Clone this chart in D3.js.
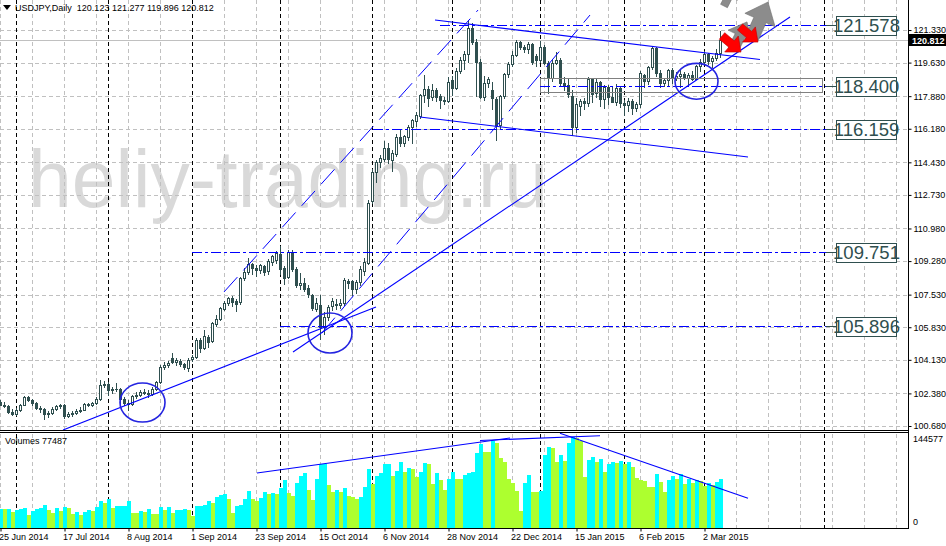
<!DOCTYPE html>
<html><head><meta charset="utf-8">
<script src="https://cdn.jsdelivr.net/npm/d3@7"></script>
<style>
body{margin:0;background:#fff;overflow:hidden}
svg{display:block}
text{font-family:"Liberation Sans",Arial,sans-serif}
</style>
</head><body>
<svg id="c" width="946" height="546"></svg>
<script>
// ---------------- DATA ----------------
const openP=[101.95,101.80,101.72,101.42,101.33,101.50,101.78,102.18,102.05,101.90,
101.62,101.55,101.30,101.35,101.55,101.70,101.80,101.22,101.32,101.38,
101.48,101.52,101.82,101.78,101.88,102.10,102.80,102.85,102.55,102.60,
102.62,102.10,101.90,101.85,102.25,102.30,102.45,102.40,102.35,102.60,
102.95,103.75,103.85,104.20,104.00,104.05,103.90,103.70,104.15,104.30,
105.15,104.75,105.30,105.10,106.02,106.25,106.80,107.10,107.35,107.20,
107.15,108.38,108.72,109.15,108.90,108.80,109.00,108.75,109.25,109.35,
109.65,108.90,108.45,109.70,108.85,108.05,108.15,107.90,107.50,106.80,
107.00,105.86,106.39,106.95,107.05,106.98,107.10,108.25,108.25,107.80,
108.20,108.75,109.20,112.40,113.95,114.45,114.60,115.20,114.55,114.85,
115.75,115.45,115.75,116.25,116.60,116.85,117.94,118.24,117.85,118.22,
117.90,117.70,117.65,118.72,118.30,119.20,119.76,120.10,121.45,120.72,
119.65,117.85,118.55,118.20,117.75,116.40,117.90,119.05,119.55,120.05,
120.70,120.45,120.35,120.60,119.95,119.75,120.45,119.60,118.85,119.60,
119.75,118.55,118.45,117.90,116.25,117.35,117.65,117.50,118.80,118.05,
118.60,117.75,118.35,117.85,117.60,118.30,117.50,117.40,117.65,117.25,
117.45,119.00,118.65,119.40,120.40,119.10,118.55,118.70,119.25,118.85,
118.95,119.05,118.85,119.00,118.80,119.45,119.65,120.10,119.70,119.85,
120.123];
const highP=[102.05,101.95,101.78,101.55,101.60,101.85,102.27,102.25,102.10,101.95,
101.70,101.60,101.45,101.65,101.80,101.85,101.85,101.40,101.45,101.55,
101.65,101.88,101.90,101.95,102.20,103.10,103.05,102.95,102.70,102.90,
102.65,102.20,102.05,102.30,102.45,102.55,102.60,102.55,102.70,103.05,
103.85,104.00,104.05,104.50,104.25,104.15,103.95,104.20,104.40,105.25,
105.25,105.70,105.40,106.10,106.45,106.90,107.20,107.40,107.45,107.30,
108.45,108.90,109.45,109.20,109.10,109.15,109.10,109.40,109.60,109.80,
110.09,109.00,109.85,109.85,108.95,108.65,108.40,108.05,107.55,107.35,
107.50,106.60,107.00,107.35,107.30,107.30,108.40,108.35,108.30,108.30,
109.00,109.45,112.45,114.10,114.55,114.80,115.55,115.45,115.05,115.90,
116.10,115.85,116.40,116.70,117.05,118.00,118.98,118.40,118.50,118.30,
118.00,117.85,118.90,118.95,119.35,119.90,120.25,121.85,121.70,120.85,
119.80,118.95,118.90,118.60,117.85,117.95,119.10,119.65,120.25,120.80,
120.75,120.55,120.70,120.65,120.10,120.75,120.55,119.70,119.75,120.20,
119.85,118.90,118.85,118.20,117.80,117.75,117.80,118.90,118.85,118.80,
118.65,118.45,118.45,118.40,118.50,118.40,117.70,117.80,117.75,117.60,
119.20,119.05,119.45,120.48,120.45,119.25,118.80,119.30,119.35,119.15,
119.25,119.15,119.10,119.20,119.50,119.80,120.25,120.15,120.00,120.35,
121.277];
const lowP=[101.75,101.65,101.35,101.25,101.25,101.45,101.75,102.00,101.80,101.55,
101.40,101.07,101.15,101.30,101.50,101.60,101.08,101.15,101.20,101.30,
101.40,101.50,101.70,101.72,101.85,102.05,102.70,102.30,102.40,102.50,
101.90,101.80,101.50,101.80,102.15,102.25,102.35,102.20,102.30,102.55,
102.90,103.65,103.75,103.95,103.85,103.80,103.65,103.55,104.05,104.25,
104.55,104.70,104.80,105.05,105.90,106.20,106.75,107.00,106.95,106.70,
107.05,108.30,108.60,108.60,108.50,108.65,108.55,108.60,109.10,109.20,
108.60,108.10,108.40,108.75,107.95,107.80,107.70,107.40,106.75,106.70,
105.23,105.50,106.20,106.75,106.80,106.85,107.00,107.90,107.50,107.60,
108.05,108.55,109.15,112.30,113.40,114.20,114.50,114.40,114.00,114.75,
115.30,115.30,115.60,115.45,116.30,116.75,117.60,117.35,117.70,117.65,
117.25,117.45,117.55,117.95,118.25,119.10,119.30,119.65,120.60,117.90,
117.80,117.70,118.35,117.20,115.57,116.20,117.80,118.90,119.45,119.95,
120.35,120.20,120.15,119.55,119.45,119.65,119.55,118.05,118.65,119.55,
118.40,118.20,117.85,115.85,116.00,116.90,117.20,117.35,117.60,117.85,
117.35,117.25,117.45,117.55,117.40,117.30,116.90,117.10,116.95,117.10,
117.30,118.35,118.50,119.30,118.95,118.35,118.40,118.45,118.55,118.70,
118.35,118.75,118.50,118.70,118.75,119.20,119.55,119.55,119.40,119.75,
119.896];
const closeP=[101.80,101.72,101.42,101.33,101.50,101.78,102.18,102.05,101.90,101.62,
101.55,101.30,101.35,101.55,101.70,101.80,101.22,101.32,101.38,101.48,
101.52,101.82,101.78,101.88,102.10,102.80,102.85,102.55,102.60,102.62,
102.10,101.90,101.85,102.25,102.30,102.45,102.40,102.35,102.60,102.95,
103.75,103.85,103.97,104.03,104.12,103.90,103.75,104.10,104.30,105.15,
104.75,105.35,105.05,106.05,106.25,106.85,107.10,107.35,107.17,107.05,
108.38,108.72,109.15,108.90,108.80,109.05,108.70,109.30,109.55,109.70,
108.85,108.40,109.75,108.85,108.05,108.15,107.80,107.55,106.85,107.10,
105.86,106.39,106.90,107.22,106.98,107.12,108.29,108.15,107.80,108.20,
108.85,109.25,112.29,113.95,114.45,114.68,115.20,114.60,114.90,115.73,
115.45,115.78,116.29,116.64,116.90,117.94,118.24,117.80,118.22,117.85,
117.70,117.65,118.60,118.30,119.20,119.75,120.10,121.44,120.72,119.65,
117.85,118.55,118.75,117.80,116.40,117.90,119.05,119.55,120.05,120.70,
120.45,120.35,120.60,119.65,119.75,120.45,119.60,118.85,119.60,119.75,
118.55,118.45,118.00,116.25,117.45,117.65,117.50,118.80,118.00,118.62,
117.75,118.35,117.85,117.60,118.30,117.50,117.40,117.65,117.25,117.45,
119.10,118.65,119.40,120.40,119.10,118.55,118.70,119.25,118.85,118.95,
119.05,118.85,119.00,118.80,119.45,119.65,120.10,119.70,119.85,120.12,
120.812];
const volumes=[29600,
29600,29800,25800,28500,29300,31200,20600,26900,29600,31200,
36400,28500,23300,31700,27400,32800,32100,21700,24900,20100,
25300,28500,26900,33700,42700,39100,45900,31700,34800,35100,
35500,42700,23300,23000,26900,25800,30600,22200,21700,32800,
28500,32800,24200,28500,29000,29600,28500,19000,34800,35300,
36400,42300,40100,48600,51800,53800,45400,23300,34800,36900,
45400,58600,45400,43200,47500,57000,53800,55900,53800,62800,
76000,54900,50700,70800,82300,86600,60200,44300,77600,100800,
101300,68100,57500,60200,57500,62800,50700,48600,46400,48600,
65400,92900,69700,82800,86600,101300,101800,82300,90200,104000,
89100,94500,92900,81200,88200,102400,101900,69700,86600,76000,
60200,77100,88200,77100,76800,83900,86600,
89100,118300,
133000,120800,119800,138200,134100,111300,105000,77600,70800,59000,
27400,70800,83900,57500,57000,59000,115100,128700,126200,105000,
116000,106500,135000,144577,142000,138200,81200,107600,112400,105000,
108800,89100,101800,105000,103400,106500,101300,105000,96100,78700,
76000,74400,65400,64900,85500,73300,57500,76000,82800,77100,
85500,69200,78000,71700,76000,74400,67000,70800,68100,72300,
77487];

const priceTicks=[121.330,119.630,117.880,116.180,114.430,112.730,110.980,109.280,107.530,105.830,104.130,102.380,100.680];
const dateLabels=["25 Jun 2014","17 Jul 2014","8 Aug 2014","1 Sep 2014","23 Sep 2014","15 Oct 2014","6 Nov 2014","28 Nov 2014","22 Dec 2014","15 Jan 2015","6 Feb 2015","2 Mar 2015"];
const dateLabelIdx=[0,16,32,48,64,80,96,112,128,144,160,176];
const monthSepIdx=[4,27,48,70,93,113,135,156,176,206];
const volumeMax=144577;
const volumeLast=77487;
const titleText="USDJPY,Daily  120.123 121.277 119.896 120.812";
const bidPrice=120.812;

// analyst objects (bar index, price)
const levelValues=[121.578,118.400,116.159,109.751,105.896];
const levelStartIdx=[110,135,93.25,48,70];
const trendLines=[[15.75,100.47,94,106.885],[73.25,104.54,197.5,122.01],[108.75,121.85,190,119.79],[105,116.79,187,114.71]];
const dashedLines=[[56,107.67,119.5,122.37],[80.5,105.53,147.5,122.11]];
const ellipses=[[30,102.92,41.25,100.89],[77,106.57,88,104.49],[168.75,119.59,179.5,117.72]];
const zoneRect=[135,118.853,205.5,118.123];
const redArrows=[[180.5,121.02,185.25,120.18],[185,121.49,189.5,120.70]];
const grayArrows=[[183.25,120.29,186.75,121.75],[188,120.91,192,122.79],[181,122.58,183.5,123.62]];
const volLines=[[64.25,86900,127.5,142200],[120,138250,150,145800],[140,149600,187,47000]];

// ---------------- DRAW ----------------
const svg=d3.select("#c");
const W=908, mainBottom=430, volTop=432, volBottom=528;
const x=d3.scaleLinear().domain([0,227]).range([0,908]);
const y=d3.scaleLinear().domain([100.68,121.33]).range([426,30]);
const yv=d3.scaleLinear().domain([0,volumeMax]).range([528,436.5]);

const defs=svg.append("defs");
defs.append("clipPath").attr("id","cm").append("rect").attr("x",0).attr("y",0).attr("width",W).attr("height",mainBottom);
defs.append("clipPath").attr("id","cv").append("rect").attr("x",0).attr("y",volTop).attr("width",W).attr("height",volBottom-volTop);

svg.append("rect").attr("width",946).attr("height",546).attr("fill","#fff");

const main=svg.append("g").attr("clip-path","url(#cm)");
const vol=svg.append("g").attr("clip-path","url(#cv)");

// watermark
main.append("text").attr("x",28).attr("y",207).attr("font-size",82)
  .attr("textLength",520).attr("lengthAdjust","spacingAndGlyphs")
  .attr("fill","#d9d9d9").text("heliy-trading.ru");

// grid
const gridIdx=d3.range(0,228,8);
[main,vol].forEach(g=>{
  g.selectAll(null).data(gridIdx).enter().append("line")
   .attr("x1",d=>Math.round(x(d))+0.5).attr("x2",d=>Math.round(x(d))+0.5)
   .attr("y1",0).attr("y2",546).attr("stroke","#c0c0c0").attr("stroke-dasharray","4,3");
});
main.selectAll(null).data(priceTicks).enter().append("line")
  .attr("x1",0).attr("x2",W).attr("y1",d=>Math.round(y(d))+0.5).attr("y2",d=>Math.round(y(d))+0.5)
  .attr("stroke","#c0c0c0").attr("stroke-dasharray","4,3");
[main,vol].forEach(g=>{
  g.selectAll(null).data(monthSepIdx).enter().append("line")
   .attr("x1",d=>Math.round(x(d))+0.5).attr("x2",d=>Math.round(x(d))+0.5)
   .attr("y1",0).attr("y2",546).attr("stroke","#000").attr("stroke-dasharray","4,3");
});
// bid line
main.append("line").attr("x1",0).attr("x2",W).attr("y1",Math.round(y(bidPrice))+0.5).attr("y2",Math.round(y(bidPrice))+0.5)
  .attr("stroke","#c0c0c0");

// volumes
vol.selectAll(null).data(volumes).enter().append("rect")
  .attr("x",(d,i)=>Math.round(x(i))-1).attr("width",4)
  .attr("y",d=>Math.round(yv(d))).attr("height",d=>volBottom-Math.round(yv(d)))
  .attr("fill",(d,i)=> (i>0 && d>volumes[i-1])||i===0 ? "#00ffff" : "#adff2f");

// candles
const cc="#2f4f4f";
const candles=main.append("g");
closeP.forEach((c,i)=>{
  const o=openP[i],h=highP[i],l=lowP[i];
  const cx=Math.round(x(i));
  const yh=Math.round(y(h)), yl=Math.round(y(l));
  candles.append("rect").attr("x",cx).attr("width",1).attr("y",yh).attr("height",yl-yh+1).attr("fill",cc);
  const top=Math.round(y(Math.max(o,c))), bot=Math.round(y(Math.min(o,c)));
  candles.append("rect").attr("x",cx-1).attr("width",3).attr("y",top).attr("height",bot-top+1).attr("fill",cc);
  if(c>o && bot-top-1>0){
    candles.append("rect").attr("x",cx).attr("width",1).attr("y",top+1).attr("height",bot-top-1).attr("fill","#fff");
  }
});

// objects
const obj=main.append("g");
const blue="#0000ff";
trendLines.forEach(t=>{
  obj.append("line").attr("x1",x(t[0])).attr("y1",y(t[1])).attr("x2",x(t[2])).attr("y2",y(t[3]))
   .attr("stroke",blue).attr("stroke-width",1.1);
});
dashedLines.forEach(t=>{
  obj.append("line").attr("x1",x(t[0])).attr("y1",y(t[1])).attr("x2",x(t[2])).attr("y2",y(t[3]))
   .attr("stroke",blue).attr("stroke-width",1).attr("stroke-dasharray","20,9");
});
// zone rect
obj.append("rect").attr("x",Math.round(x(zoneRect[0]))+0.5).attr("y",Math.round(y(zoneRect[1]))+0.5)
  .attr("width",Math.round(x(zoneRect[2])-x(zoneRect[0]))).attr("height",Math.round(y(zoneRect[3])-y(zoneRect[1])))
  .attr("fill","none").attr("stroke","#808080");
// levels
const lvlEnd=826, boxX=836, boxW=60, boxH=19;
levelValues.forEach((v,k)=>{
  const yy=Math.round(y(v))+0.5;
  obj.append("line").attr("x1",x(levelStartIdx[k])).attr("x2",lvlEnd).attr("y1",yy).attr("y2",yy)
    .attr("stroke",blue).attr("stroke-dasharray","10,3,3,3");
  obj.append("line").attr("x1",lvlEnd).attr("x2",boxX).attr("y1",yy).attr("y2",yy).attr("stroke","#2f4f4f");
  obj.append("rect").attr("x",boxX+0.5).attr("y",Math.round(yy-boxH/2)+0.5).attr("width",boxW).attr("height",boxH)
    .attr("fill","#fff").attr("stroke","#2f4f4f");
  obj.append("text").attr("x",boxX+boxW/2+0.5).attr("y",yy+6.5).attr("text-anchor","middle")
    .attr("font-family","'Liberation Serif','Times New Roman',serif").attr("font-size",18.5)
    .attr("fill","#2f4f4f").text(d3.format(".3f")(v));
});
// ellipses
ellipses.forEach(e=>{
  const x1=x(e[0]),x2=x(e[2]),y1=y(e[1]),y2=y(e[3]);
  obj.append("ellipse").attr("cx",(x1+x2)/2).attr("cy",(y1+y2)/2).attr("rx",Math.abs(x2-x1)/2).attr("ry",Math.abs(y2-y1)/2)
    .attr("fill","none").attr("stroke","#2424e0").attr("stroke-width",1.6);
});
// arrows
function arrowPath(a){
  const tx=x(a[0]),ty=y(a[1]),hx=x(a[2]),hy=y(a[3]);
  const dx=hx-tx,dy=hy-ty,L=Math.hypot(dx,dy),ux=dx/L,uy=dy/L,nx=-uy,ny=ux;
  const hl=L*0.5,hw=L*0.42,sw=L*0.17;
  const bx=hx-ux*hl,by=hy-uy*hl;
  const p=[[tx+nx*sw,ty+ny*sw],[bx+nx*sw,by+ny*sw],[bx+nx*hw,by+ny*hw],[hx,hy],[bx-nx*hw,by-ny*hw],[bx-nx*sw,by-ny*sw],[tx-nx*sw,ty-ny*sw]];
  return "M"+p.map(q=>q[0].toFixed(1)+","+q[1].toFixed(1)).join("L")+"Z";
}
grayArrows.forEach(a=>obj.append("path").attr("d",arrowPath(a)).attr("fill","#8c8c8c").attr("stroke","#6e6e6e").attr("stroke-width",0.6));
redArrows.forEach(a=>obj.append("path").attr("d",arrowPath(a)).attr("fill","#ff0000").attr("stroke","#c00000").attr("stroke-width",0.6));

// volume lines
volLines.forEach(t=>{
  vol.append("line").attr("x1",x(t[0])).attr("y1",yv(t[1])).attr("x2",x(t[2])).attr("y2",yv(t[3]))
    .attr("stroke",blue).attr("stroke-width",1.1);
});

// frame
const fr=svg.append("g").attr("stroke","#000").attr("shape-rendering","crispEdges");
fr.append("line").attr("x1",W+0.5).attr("x2",W+0.5).attr("y1",0).attr("y2",volBottom+0.5);
fr.append("line").attr("x1",0).attr("x2",W+0.5).attr("y1",mainBottom+0.5).attr("y2",mainBottom+0.5);
fr.append("line").attr("x1",0).attr("x2",W+0.5).attr("y1",volTop+0.5).attr("y2",volTop+0.5);
fr.append("line").attr("x1",0).attr("x2",W+0.5).attr("y1",volBottom+0.5).attr("y2",volBottom+0.5);

// price axis
const pa=svg.append("g").attr("transform",`translate(${W+0.5},0)`)
  .call(d3.axisRight(y).tickValues(priceTicks).tickFormat(d3.format(".3f")).tickSize(3).tickPadding(2));
pa.select(".domain").remove();
pa.selectAll("text").attr("font-size",9).attr("font-family","'Liberation Sans',Arial,sans-serif").attr("fill","#000");
pa.selectAll("line").attr("stroke","#000");

// bid label
svg.append("rect").attr("x",W+1).attr("y",Math.round(y(bidPrice))-6).attr("width",38).attr("height",12).attr("fill","#000");
svg.append("text").attr("x",W+4).attr("y",Math.round(y(bidPrice))+3.5).attr("font-size",9).attr("fill","#fff").attr("font-weight","bold").text(d3.format(".3f")(bidPrice));

// volume axis labels
svg.append("text").attr("x",W+5).attr("y",442).attr("font-size",9).text(String(volumeMax));
svg.append("text").attr("x",W+5).attr("y",525).attr("font-size",9).text("0");

// date axis
const da=svg.append("g").attr("transform",`translate(0.5,${volBottom+0.5})`)
  .call(d3.axisBottom(x).tickValues(dateLabelIdx).tickFormat((d,i)=>dateLabels[i]).tickSize(3).tickPadding(2));
da.select(".domain").remove();
da.selectAll("text").attr("font-size",9).attr("font-family","'Liberation Sans',Arial,sans-serif")
  .attr("text-anchor","start").attr("x",-2).attr("fill","#000");
da.selectAll("line").attr("stroke","#000");

// title
svg.append("path").attr("d","M3,5L11,5L7,10Z").attr("fill","#000");
svg.append("text").attr("x",15).attr("y",11).attr("font-size",9).attr("xml:space","preserve").style("white-space","pre").text(titleText);
svg.append("text").attr("x",5).attr("y",444).attr("font-size",9).text("Volumes "+volumeLast);
</script>
</body></html>
